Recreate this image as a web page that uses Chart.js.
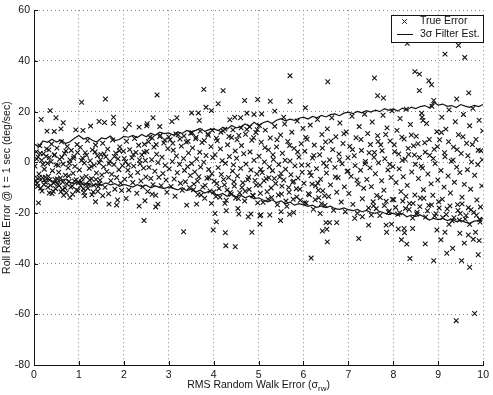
<!DOCTYPE html>
<html><head><meta charset="utf-8">
<script src="https://cdn.jsdelivr.net/npm/chart.js@4/dist/chart.umd.min.js"></script>
<style>html,body{margin:0;padding:0;background:#fff}</style>
</head><body>
<canvas id="c" width="493" height="395"></canvas>
<script>
// ---- data ----
const xTicks = [0,1,2,3,4,5,6,7,8,9,10];
const yTicks = [-80,-60,-40,-20,0,20,40,60];

const lineX = [0,0.1,0.2,0.3,0.4,0.5,0.6,0.7,0.8,0.9,1,1.1,1.2,1.3,1.4,1.5,1.6,1.7,1.8,1.9,2,2.1,2.2,2.3,2.4,2.5,2.6,2.7,2.8,2.9,3,3.1,3.2,3.3,3.4,3.5,3.6,3.7,3.8,3.9,4,4.1,4.2,4.3,4.4,4.5,4.6,4.7,4.8,4.9,5,5.1,5.2,5.3,5.4,5.5,5.6,5.7,5.8,5.9,6,6.1,6.2,6.3,6.4,6.5,6.6,6.7,6.8,6.9,7,7.1,7.2,7.3,7.4,7.5,7.6,7.7,7.8,7.9,8,8.1,8.2,8.3,8.4,8.5,8.6,8.7,8.8,8.9,9,9.1,9.2,9.3,9.4,9.5,9.6,9.7,9.8,9.9,10];
const upper3s = [7.3,6.2,8.4,7.9,9.1,8.0,8.8,7.4,8.1,9.5,
 10.6,9.2,9.8,8.7,8.0,9.6,9.3,10.4,8.6,9.0,
 10.2,9.9,10.6,9.8,11.0,10.1,11.5,10.7,11.9,11.3,
 11.6,10.8,12.0,11.4,12.6,11.9,12.6,13.4,12.2,12.9,
 13.2,12.5,13.8,13.1,14.5,13.6,14.0,15.1,14.2,15.8,
 14.5,15.6,16.2,15.3,16.6,17.2,16.4,17.0,16.6,17.4,
 17.8,17.1,18.1,17.6,18.5,17.9,18.8,19.1,18.4,19.4,
 19.8,19.2,20.1,19.5,20.4,19.8,20.6,20.0,21.2,20.5,
 21.1,20.2,21.4,20.6,21.8,21.2,22.0,22.4,21.5,23.7,
 22.6,23.0,22.1,22.4,21.6,22.8,22.2,21.7,22.5,22.0,22.8];
const lower3s = [-5.1,-6.8,-7.7,-6.5,-7.4,-8.1,-7.1,-6.6,-7.9,-8.4,
 -7.6,-8.8,-8.2,-9.3,-8.5,-9.0,-8.1,-8.9,-8.4,-9.5,
 -8.7,-9.2,-9.8,-8.8,-9.6,-9.0,-10.1,-9.3,-9.9,-10.4,
 -9.7,-10.3,-10.9,-10.0,-11.2,-10.6,-11.7,-11.0,-12.1,-11.4,
 -12.4,-13.0,-12.3,-13.4,-12.6,-13.6,-12.9,-14.0,-13.3,-14.4,
 -14.0,-14.9,-15.6,-14.8,-15.9,-15.2,-16.4,-15.7,-16.9,-16.3,
 -16.8,-17.4,-16.9,-17.8,-17.2,-17.9,-17.3,-18.3,-18.6,-18.0,
 -18.7,-19.1,-18.6,-19.5,-19.0,-19.8,-20.2,-19.4,-20.0,-20.6,
 -20.1,-20.9,-20.2,-21.5,-20.8,-21.3,-20.8,-21.7,-22.8,-22.1,
 -22.6,-22.1,-23.0,-22.4,-23.4,-22.9,-23.6,-24.1,-23.2,-23.0,-22.0];

// true error samples inside the band
const bandErr = [
[0.02,-1.5],[0.05,4.2],[0.07,-8.3],[0.09,2.1],[0.11,-4.6],[0.13,6.5],[0.15,-10.2],[0.17,0.8],[0.19,-6.1],[0.21,3.4],[0.23,-2.7],[0.26,-7.9],[0.28,5.3],[0.30,-0.4],[0.32,-5.5],[0.34,1.9],[0.37,-9.1],[0.39,7.2],[0.41,-3.3],[0.43,-11.4],[0.45,2.8],[0.47,-6.8],[0.49,-1.0],
[0.51,5.6],[0.53,-8.7],[0.55,-3.9],[0.57,1.2],[0.59,-6.2],[0.61,8.1],[0.63,-10.8],[0.65,-0.7],[0.68,3.5],[0.70,-5.1],[0.72,-12.0],[0.74,6.3],[0.76,-2.2],[0.78,-7.6],[0.80,0.9],[0.83,4.7],[0.85,-9.4],[0.87,-4.3],[0.89,2.4],[0.91,-1.6],[0.94,-6.9],[0.96,7.0],[0.98,-11.2],
[1.01,-3.0],[1.03,5.9],[1.05,-7.8],[1.08,1.7],[1.10,-10.5],[1.12,-0.3],[1.14,3.8],[1.16,-5.6],[1.19,8.6],[1.21,-8.9],[1.23,-2.4],[1.25,0.6],[1.28,-6.5],[1.30,4.9],[1.32,-11.7],[1.34,-1.1],[1.37,6.8],[1.39,-4.2],[1.41,2.6],[1.43,-9.6],[1.45,-0.2],[1.47,-7.1],[1.49,3.1],
[1.51,-5.0],[1.53,7.5],[1.55,-1.8],[1.58,-9.9],[1.60,2.2],[1.62,-3.6],[1.64,5.2],[1.66,-12.4],[1.69,0.4],[1.71,-7.3],[1.73,-4.7],[1.75,8.8],[1.78,-0.9],[1.80,-10.6],[1.82,3.6],[1.84,-6.0],[1.87,1.4],[1.89,-2.9],[1.91,6.1],[1.93,-8.2],[1.95,-11.1],[1.97,-1.3],[1.99,4.4],
[2.02,-6.7],[2.04,0.2],[2.06,8.3],[2.09,-3.1],[2.11,-10.9],[2.13,5.0],[2.15,-5.3],[2.18,1.8],[2.20,-8.0],[2.22,-1.5],[2.24,9.4],[2.27,3.9],[2.29,-12.2],[2.31,-4.0],[2.33,6.7],[2.36,-0.6],[2.38,-7.4],[2.40,2.9],[2.42,-9.7],[2.44,-2.3],[2.46,7.1],[2.48,0.7],[2.49,-5.8],
[2.51,4.3],[2.53,-11.5],[2.56,-2.0],[2.58,9.9],[2.60,-6.4],[2.62,1.0],[2.65,-8.8],[2.67,6.0],[2.69,-3.5],[2.71,-13.0],[2.73,3.2],[2.76,-0.1],[2.78,-5.9],[2.80,10.2],[2.83,-9.2],[2.85,2.0],[2.87,-4.4],[2.89,7.6],[2.92,-1.2],[2.94,-7.0],[2.96,-11.8],[2.98,5.4],
[3.01,-2.6],[3.03,8.9],[3.05,-9.5],[3.08,0.3],[3.10,4.8],[3.12,-6.6],[3.14,-13.4],[3.17,2.5],[3.19,-4.1],[3.21,10.9],[3.24,-0.8],[3.26,-8.3],[3.28,6.4],[3.30,-11.0],[3.33,1.5],[3.35,-3.2],[3.37,-7.7],[3.39,8.0],[3.42,-1.7],[3.44,3.7],[3.46,-10.0],[3.48,-5.2],[3.49,11.5],
[3.51,-0.5],[3.53,5.7],[3.56,-8.6],[3.58,-3.8],[3.60,9.3],[3.62,1.3],[3.65,-12.7],[3.67,-5.7],[3.69,4.0],[3.71,-1.9],[3.74,7.8],[3.76,-9.8],[3.78,0.0],[3.80,-14.2],[3.83,2.7],[3.85,-6.3],[3.87,11.2],[3.89,-2.8],[3.92,-11.3],[3.94,6.2],[3.96,-4.5],[3.98,1.9],
[4.01,-7.5],[4.03,3.0],[4.05,-13.5],[4.08,8.5],[4.10,-2.1],[4.12,-10.3],[4.15,5.3],[4.17,-4.8],[4.19,0.6],[4.21,12.4],[4.24,-8.9],[4.26,-0.4],[4.28,-15.0],[4.31,6.9],[4.33,-6.0],[4.35,2.3],[4.37,-11.9],[4.40,9.8],[4.42,-3.4],[4.44,-1.0],[4.46,-9.4],[4.48,4.5],[4.49,-14.1],
[4.51,1.6],[4.53,-5.4],[4.56,10.6],[4.58,-12.0],[4.60,-2.4],[4.62,6.6],[4.65,-8.1],[4.67,3.4],[4.69,-15.3],[4.72,-0.7],[4.74,13.0],[4.76,-6.9],[4.79,-10.7],[4.81,4.1],[4.83,-3.0],[4.85,8.7],[4.88,-13.2],[4.90,0.8],[4.92,-7.2],[4.94,11.8],[4.96,-4.6],[4.98,-16.0],
[5.01,2.4],[5.03,-9.0],[5.06,7.9],[5.08,-4.0],[5.10,-15.8],[5.13,0.1],[5.15,12.7],[5.17,-6.5],[5.19,-11.6],[5.22,4.9],[5.24,-1.8],[5.26,9.6],[5.29,-13.9],[5.31,-3.3],[5.33,1.1],[5.36,14.2],[5.38,-8.4],[5.40,6.1],[5.42,-16.8],[5.45,-0.9],[5.47,-5.8],[5.49,10.8],
[5.51,-12.5],[5.53,3.6],[5.56,-7.0],[5.58,15.1],[5.60,-2.7],[5.63,-17.4],[5.65,8.2],[5.67,-9.9],[5.70,0.5],[5.72,-4.9],[5.74,11.9],[5.77,-14.6],[5.79,5.5],[5.81,-1.4],[5.84,-10.4],[5.86,16.3],[5.88,-6.2],[5.90,2.1],[5.93,-15.0],[5.95,7.3],[5.97,-3.9],[5.99,13.4],
[6.01,-8.3],[6.03,4.4],[6.06,-16.1],[6.08,9.1],[6.10,-1.1],[6.13,-12.8],[6.15,14.7],[6.17,-5.2],[6.20,1.7],[6.22,-18.5],[6.24,6.8],[6.27,-9.3],[6.29,-2.5],[6.31,16.9],[6.34,-14.0],[6.36,3.0],[6.38,-6.7],[6.41,11.0],[6.43,-11.2],[6.45,-0.3],[6.48,-17.0],[6.49,8.0],
[6.51,-4.2],[6.53,13.2],[6.56,-13.5],[6.58,0.9],[6.60,-8.9],[6.63,17.6],[6.65,5.0],[6.67,-18.9],[6.70,-2.0],[6.72,10.1],[6.74,-11.8],[6.77,-6.1],[6.79,3.3],[6.81,15.5],[6.84,-15.7],[6.86,-0.6],[6.88,7.4],[6.91,-9.7],[6.93,-19.5],[6.95,12.0],[6.97,-3.6],[6.99,1.8],
[7.01,-12.3],[7.03,6.3],[7.06,-5.5],[7.08,18.2],[7.10,-16.6],[7.13,2.6],[7.15,-1.3],[7.17,9.7],[7.20,-20.1],[7.22,-8.6],[7.24,14.1],[7.27,-3.1],[7.29,4.7],[7.31,-14.4],[7.34,-10.2],[7.36,19.0],[7.38,0.3],[7.41,-6.8],[7.43,11.4],[7.45,-18.0],[7.48,-2.2],[7.49,7.0],
[7.51,-9.6],[7.53,15.9],[7.56,-17.2],[7.58,3.9],[7.60,-4.5],[7.63,-13.1],[7.65,10.5],[7.67,-0.2],[7.70,-21.0],[7.72,6.9],[7.74,-7.3],[7.77,18.6],[7.79,-11.0],[7.81,1.4],[7.84,-15.4],[7.86,13.6],[7.88,-3.0],[7.91,-19.2],[7.93,8.4],[7.95,-6.0],[7.97,20.3],[7.99,-1.7],
[8.01,-14.8],[8.03,4.2],[8.06,-8.0],[8.08,12.6],[8.10,-20.5],[8.13,-2.6],[8.15,17.3],[8.17,-11.5],[8.20,0.8],[8.22,-5.7],[8.24,9.2],[8.27,-18.2],[8.29,21.0],[8.31,-9.1],[8.34,3.1],[8.36,-16.3],[8.38,14.9],[8.41,-3.8],[8.43,-22.0],[8.45,6.5],[8.48,-12.9],[8.49,-0.8],
[8.51,10.3],[8.53,-19.7],[8.56,-6.4],[8.58,1.9],[8.60,-14.1],[8.63,19.4],[8.65,-2.3],[8.67,-10.8],[8.70,7.7],[8.72,-21.6],[8.74,15.3],[8.77,-4.6],[8.79,-17.0],[8.81,2.8],[8.84,-8.5],[8.86,22.1],[8.88,-13.0],[8.91,5.1],[8.93,-0.5],[8.95,-20.3],[8.97,12.1],[8.99,-7.0],
[9.01,-15.6],[9.03,8.9],[9.06,-3.2],[9.08,17.8],[9.10,-21.8],[9.13,-9.8],[9.15,2.2],[9.17,13.1],[9.20,-18.4],[9.22,-5.4],[9.24,20.7],[9.27,-12.1],[9.29,0.4],[9.31,-23.1],[9.34,6.0],[9.36,-7.9],[9.38,16.0],[9.41,-1.9],[9.43,-16.7],[9.45,10.9],[9.48,-4.0],[9.49,-20.2],
[9.51,3.5],[9.53,-13.8],[9.56,18.9],[9.58,-8.7],[9.60,-22.4],[9.63,7.5],[9.65,-2.9],[9.67,-17.9],[9.70,14.4],[9.72,-10.6],[9.74,0.1],[9.77,21.3],[9.79,-19.8],[9.81,-5.1],[9.84,9.0],[9.86,-14.9],[9.88,-0.9],[9.91,16.6],[9.93,-23.6],[9.95,4.6],[9.97,-9.3],[9.99,12.4]
];
// denser clumps of samples seen in the reference
const clumpErr = [
[0.04,-7.2],[0.08,-9.5],[0.12,-6.0],[0.18,-11.3],[0.22,-8.8],[0.25,-5.9],[0.31,-9.9],[0.35,-7.0],[0.40,-12.3],[0.44,-8.2],[0.48,-10.4],[0.52,-6.6],[0.56,-9.2],[0.60,-11.6],[0.64,-7.8],[0.69,-10.1],[0.73,-8.5],[0.77,-5.4],[0.82,-9.8],[0.86,-12.6],[0.90,-7.4],[0.95,-10.9],[0.99,-8.1],[1.04,-9.3],[1.07,-6.2],[1.11,-11.9],[1.15,-8.6],[1.20,-10.2],[1.24,-7.0],[1.29,-12.8],[1.33,-9.0],[1.38,-6.8],[1.42,-11.4],[1.46,-8.4],
[0.06,1.3],[0.14,3.6],[0.20,-0.8],[0.27,2.4],[0.33,4.9],[0.38,0.2],[0.46,3.0],[0.54,-1.2],[0.62,2.0],[0.71,4.5],[0.79,-0.4],[0.88,1.6],[0.97,3.9],[1.06,0.7],[1.17,2.8],[1.27,-1.6],[1.36,4.1],[1.48,1.0],[1.56,3.3],[1.67,-0.5],[1.79,2.3],[1.90,4.6],[2.01,1.5],[2.10,-1.0],[2.21,3.1],[2.35,0.9],[2.45,4.0],
[3.55,-10.8],[3.64,-7.4],[3.72,-12.9],[3.81,-9.1],[3.90,-6.1],[4.00,-11.7],[4.07,-8.4],[4.14,-13.8],[4.22,-6.8],[4.30,-10.9],[4.39,-12.6],[4.45,-7.7],[4.55,-14.3],[4.63,-9.9],[4.70,-11.4],[4.78,-5.9],[4.87,-13.0],[4.95,-9.0],[5.04,-12.2],[5.12,-7.3],[5.21,-14.6],[5.28,-10.1],[5.35,-6.4],[5.44,-12.9],[5.52,-9.4],[5.61,-15.3],[5.68,-11.8],[5.76,-7.9],[5.85,-13.7],[5.92,-10.6],[6.02,-15.9],[6.11,-12.4],[6.19,-8.6],[6.26,-14.8],[6.33,-11.0],[6.40,-16.3],[6.47,-13.2],
[7.55,-15.6],[7.62,-18.3],[7.71,-13.9],[7.80,-17.1],[7.89,-19.6],[7.98,-14.7],[8.05,-17.8],[8.14,-19.9],[8.21,-15.3],[8.28,-13.4],[8.35,-18.6],[8.44,-16.2],[8.52,-20.4],[8.59,-17.5],[8.68,-14.2],[8.76,-19.1],[8.85,-16.8],[8.92,-21.2],[9.02,-18.0],[9.09,-14.6],[9.18,-20.6],[9.26,-17.2],[9.35,-21.9],[9.44,-19.0],[9.53,-16.4],[9.62,-21.0],[9.73,-18.7],[9.85,-20.9],[9.94,-17.6],
[7.57,2.0],[7.66,8.2],[7.75,4.6],[7.83,11.0],[7.92,-0.8],[8.02,6.9],[8.12,3.3],[8.19,9.9],[8.26,1.2],[8.33,5.5],[8.40,10.8],[8.47,2.9],[8.55,7.3],[8.62,-1.5],[8.71,4.0],[8.80,9.0],[8.89,1.5],[8.98,6.2],[9.07,11.8],[9.14,3.8],[9.23,8.1],[9.33,0.9],[9.42,5.0],[9.55,10.1],[9.66,2.6],[9.76,7.0],[9.89,4.8],[9.98,1.0],
[2.55,8.1],[2.63,9.6],[2.72,7.0],[2.81,10.6],[2.91,8.8],[3.00,10.0],[3.09,7.5],[3.16,11.2],[3.25,9.2],[3.34,10.4],[3.43,8.3],[3.52,11.7],[3.61,9.9],[3.70,12.3],[3.79,8.6],[3.88,10.7],[3.97,12.6],[4.06,9.5],[4.16,11.9],[4.25,13.1],[4.34,10.2],[4.43,12.8],[4.52,8.9],[4.61,13.6],[4.71,11.1],[4.80,14.0],[4.89,9.7],[4.97,12.9],
[5.05,-2.8],[5.14,5.8],[5.23,-6.1],[5.32,3.0],[5.41,8.9],[5.50,-4.4],[5.59,0.8],[5.69,6.6],[5.78,-7.5],[5.87,4.1],[5.96,-1.1],[6.05,9.8],[6.14,-4.0],[6.23,2.7],[6.32,-8.2],[6.42,5.6],[6.51,-1.6],[6.61,8.4],[6.71,-5.8],[6.80,1.0],[6.90,11.3],[6.99,-3.4],[7.09,5.0],[7.19,-7.0],[7.28,9.0],[7.37,-0.6],[7.46,3.8]
];
// true error samples above the upper 3-sigma estimate
const highErr = [
[0.16,16.9],[0.36,20.4],[0.49,17.6],[0.65,15.6],[0.29,12.3],[0.45,12.2],[1.06,23.7],[1.59,25.0],[1.45,16.1],[1.57,15.7],[1.77,17.8],[1.77,15.4],[1.26,14.3],[1.09,12.6],[0.93,12.8],[0.60,13.2],[2.12,14.9],[2.03,13.0],[2.34,13.9],[2.52,15.2],
[2.74,26.6],[3.78,28.8],[4.21,28.3],[4.69,24.4],[4.98,24.8],[4.10,23.1],[3.83,21.7],[3.95,20.4],[3.51,19.5],[3.66,19.5],[3.68,16.5],[2.65,17.6],[2.51,14.4],[2.80,14.1],[3.07,16.1],[3.18,17.6],[4.36,16.8],[4.47,17.8],[4.60,17.6],[4.74,19.4],[4.90,18.9],[5.02,14.5],
[5.70,34.2],[6.54,31.8],[7.58,33.3],[5.26,24.1],[5.70,24.1],[6.04,21.5],[5.36,20.2],[5.56,17.8],[5.07,19.1],
[8.31,47.0],[9.45,46.2],[9.15,42.7],[9.59,41.4],[8.48,35.8],[8.58,34.8],[8.79,32.2],[8.85,30.6],[8.58,28.3],[9.68,27.4],[7.65,26.3],[7.78,25.4],[9.41,25.0],[8.64,17.8],[8.66,16.5],[8.90,24.4]
];
// true error samples below the lower 3-sigma estimate
const lowErr = [
[0.10,-16.0],[0.34,-12.1],[0.66,-13.0],[0.80,-13.9],[1.13,-13.2],[1.37,-15.6],[1.53,-13.2],[1.67,-16.5],[1.84,-16.9],[1.86,-14.9],[2.05,-14.3],[2.34,-17.3],[2.45,-23.0],[2.47,-15.2],[2.63,-12.6],[2.71,-17.6],[2.76,-16.5],
[3.33,-27.4],[3.40,-16.9],[3.62,-16.5],[3.95,-16.2],[4.03,-20.2],[4.06,-23.5],[3.99,-26.7],[4.25,-16.2],[4.28,-19.1],[4.26,-27.8],[4.27,-32.9],[4.48,-33.3],[4.54,-18.2],[4.56,-20.4],[4.77,-21.5],[4.83,-20.4],[4.85,-27.6],[5.03,-21.1],[5.03,-24.4],
[5.05,-20.8],[5.25,-20.8],[5.49,-23.0],[5.50,-19.5],[5.69,-20.5],[5.78,-19.8],[6.17,-37.8],[6.53,-31.4],[6.42,-27.1],[6.52,-26.4],[6.50,-23.8],[6.58,-23.8],[6.74,-23.8],[6.37,-20.2],[7.23,-30.1],[7.14,-22.1],[7.31,-21.5],[7.51,-20.8],[7.45,-24.8],
[7.84,-24.8],[7.85,-27.6],[7.96,-24.4],[8.11,-26.3],[8.24,-26.1],[8.25,-27.8],[8.43,-26.1],[8.18,-30.6],[8.30,-32.3],[8.37,-38.0],[8.71,-32.2],[8.90,-38.8],[9.06,-30.6],[9.19,-35.9],[9.32,-33.9],[8.97,-26.7],[9.15,-27.6],[9.48,-28.0],[9.58,-31.9],[9.52,-38.8],[9.70,-41.4],[9.67,-28.7],[9.83,-27.6],[9.78,-30.4],[9.91,-30.9],[9.89,-36.5],[9.40,-62.5],[9.81,-59.7],[9.24,-24.5],[9.47,-22.8],[9.70,-24.5],[9.92,-22.5]
];

const legendLabels = ['True Error', '3\u03C3 Filter Est.'];
const xTitleMain = 'RMS Random Walk Error (\u03C3';
const xTitleSub = 'rw';
const yTitle = 'Roll Rate Error @ t = 1 sec (deg/sec)';

// ---- build chart ----
const ink = '#141414';
const FONT = '"Liberation Sans", Arial, Helvetica, sans-serif';
const toPts = arr => arr.map(p => ({x: p[0], y: p[1]}));
const errPts = toPts(bandErr.concat(clumpErr, highErr, lowErr));
const upPts = lineX.map((x, i) => ({x, y: upper3s[i]}));
const loPts = lineX.map((x, i) => ({x, y: lower3s[i]}));

const extras = {
  id: 'extras',
  afterDraw(chart) {
    const ctx = chart.ctx, ca = chart.chartArea;
    ctx.save();
    ctx.strokeStyle = ink; ctx.lineWidth = 1;
    const xs = chart.scales.x, ys = chart.scales.y;
    xTicks.forEach(v => { const px = Math.round(xs.getPixelForValue(v)) + 0.5;
      ctx.beginPath(); ctx.moveTo(px, ca.bottom); ctx.lineTo(px, ca.bottom - 4); ctx.stroke(); });
    yTicks.forEach(v => { const py = Math.round(ys.getPixelForValue(v)) + 0.5;
      ctx.beginPath(); ctx.moveTo(ca.left, py); ctx.lineTo(ca.left + 4, py); ctx.stroke(); });
    // x title with subscript
    ctx.fillStyle = ink;
    ctx.font = '10.5px ' + FONT;
    const w1 = ctx.measureText(xTitleMain).width;
    ctx.font = '8px ' + FONT;
    const w2 = ctx.measureText(xTitleSub).width;
    ctx.font = '10.5px ' + FONT;
    const w3 = ctx.measureText(')').width;
    const total = w1 + w2 + w3;
    let x0 = (ca.left + ca.right) / 2 - total / 2;
    const yb = 388;
    ctx.textBaseline = 'alphabetic'; ctx.textAlign = 'left';
    ctx.fillText(xTitleMain, x0, yb);
    ctx.font = '8px ' + FONT;
    ctx.fillText(xTitleSub, x0 + w1, yb + 3);
    ctx.font = '10.5px ' + FONT;
    ctx.fillText(')', x0 + w1 + w2, yb);
    // legend box
    const bx = 391, by = 15, bw = 92, bh = 27;
    ctx.fillStyle = '#fff';
    ctx.fillRect(bx, by, bw, bh);
    ctx.strokeStyle = ink; ctx.lineWidth = 1;
    ctx.strokeRect(bx + 0.5, by + 0.5, bw, bh);
    ctx.fillStyle = ink; ctx.textBaseline = 'middle';
    ctx.font = '10.5px ' + FONT;
    const mx = 404.5, my = 21.5, r = 2.3;
    ctx.beginPath(); ctx.moveTo(mx - r, my - r); ctx.lineTo(mx + r, my + r);
    ctx.moveTo(mx - r, my + r); ctx.lineTo(mx + r, my - r); ctx.stroke();
    ctx.fillText(legendLabels[0], 420, 21.5);
    ctx.beginPath(); ctx.moveTo(397, 34.5); ctx.lineTo(413, 34.5); ctx.stroke();
    ctx.fillText(legendLabels[1], 420, 34);
    ctx.restore();
  }
};

new Chart(document.getElementById('c'), {
  type: 'scatter',
  data: {
    datasets: [
      { label: legendLabels[0], data: errPts, showLine: false,
        pointStyle: 'crossRot', pointRadius: 3.3, borderColor: ink, borderWidth: 1.1, backgroundColor: ink, order: 2 },
      { label: legendLabels[1], data: upPts, showLine: true, pointRadius: 0,
        borderColor: ink, borderWidth: 1.2, tension: 0, order: 1 },
      { label: legendLabels[1], data: loPts, showLine: true, pointRadius: 0,
        borderColor: ink, borderWidth: 1.2, tension: 0, order: 1 }
    ]
  },
  options: {
    responsive: false, animation: false, devicePixelRatio: 1,
    layout: { padding: { top: 9, right: 5, left: 0, bottom: 0 } },
    plugins: { legend: { display: false }, tooltip: { enabled: false } },
    scales: {
      x: {
        type: 'linear', min: 0, max: 10,
        afterBuildTicks: s => { s.ticks = xTicks.map(v => ({value: v})); },
        afterFit: s => { s.height = 30; },
        ticks: { color: ink, font: { family: FONT, size: 10.5 }, padding: 4, maxRotation: 0 },
        grid: { color: '#8a8a8a', lineWidth: 1, drawTicks: false },
        border: { display: true, color: ink, width: 1, dash: [1, 3] },
        title: { display: false }
      },
      y: {
        type: 'linear', min: -80, max: 60,
        afterBuildTicks: s => { s.ticks = yTicks.map(v => ({value: v})); },
        afterFit: s => { s.width = 34; },
        ticks: { color: ink, font: { family: FONT, size: 10.5 }, padding: 4 },
        grid: { color: '#8a8a8a', lineWidth: 1, drawTicks: false },
        border: { display: true, color: ink, width: 1, dash: [1, 3] },
        title: { display: true, text: yTitle, color: ink, font: { family: FONT, size: 10.5 }, padding: { top: 1, bottom: 0 } }
      }
    }
  },
  plugins: [extras]
});
</script>
</body></html>
